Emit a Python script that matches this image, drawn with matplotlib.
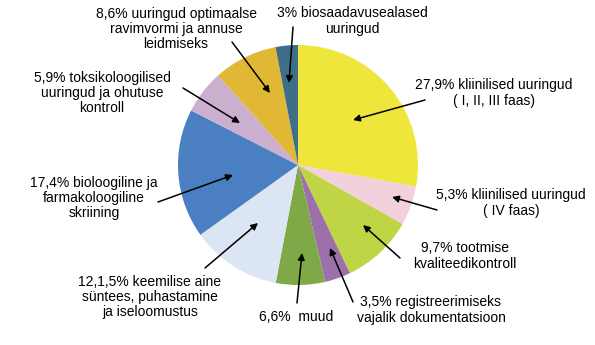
import matplotlib
matplotlib.use("Agg")
import matplotlib.pyplot as plt

plt.rcParams["font.family"] = ["Liberation Sans", "DejaVu Sans"]

# slices, clockwise from 12 o'clock
labels = [
    "27,9% kliinilised uuringud\n( I, II, III faas)",
    "5,3% kliinilised uuringud\n( IV faas)",
    "9,7% tootmise\nkvaliteedikontroll",
    "3,5% registreerimiseks\nvajalik dokumentatsioon",
    "6,6%  muud",
    "12,1,5% keemilise aine\nsüntees, puhastamine\nja iseloomustus",
    "17,4% bioloogiline ja\nfarmakoloogiline\nskriining",
    "5,9% toksikoloogilised\nuuringud ja ohutuse\nkontroll",
    "8,6% uuringud optimaalse\nravimvormi ja annuse\nleidmiseks",
    "3% biosaadavusealased\nuuringud",
]
values = [27.9, 5.3, 9.7, 3.5, 6.6, 12.15, 17.4, 5.9, 8.6, 3.0]
colors = ["#EEE63A", "#F2D0DC", "#C0D545", "#9C70A9", "#7FA947",
          "#DCE5F3", "#4A7FC1", "#CBAFCF", "#E1B836", "#3F6E89"]

# layout in pixels from top-left: text centre, arrow tail, arrow head
text_pos = [(494, 93), (511, 203), (465, 256), (431, 310), (296, 317),
            (150, 297), (94, 198), (102, 93), (176, 29), (352, 21)]
arrow_tail = [(425, 100), (437, 210), (400, 258), (353, 302), (297, 303),
              (205, 268), (158, 202), (183, 88), (232, 42), (293, 27)]
arrow_head = [(353, 120), (392, 197), (363, 225), (330, 248), (302, 253),
              (258, 223), (233, 175), (240, 123), (270, 93), (289, 83)]

W, H = 595, 345
fig = plt.figure(figsize=(W / 100, H / 100), dpi=100)
ax = fig.add_axes([0, 0, 1, 1])

ax.pie(values, colors=colors, startangle=90, counterclock=False,
       center=(298, H - 165), radius=120, wedgeprops=dict(linewidth=0))

for lab, (tx, ty), (ax0, ay0), (hx, hy) in zip(labels, text_pos, arrow_tail, arrow_head):
    ax.text(tx, H - ty, lab, ha="center", va="center", fontsize=10,
            linespacing=1.1, color="black")
    ax.annotate("", xy=(hx, H - hy), xytext=(ax0, H - ay0),
                arrowprops=dict(arrowstyle="-|>", color="black", lw=1.1,
                                mutation_scale=10, shrinkA=0, shrinkB=0))

ax.set_xlim(0, W)
ax.set_ylim(0, H)
ax.set_aspect("equal")
ax.axis("off")

fig.savefig("out.png", dpi=100)
